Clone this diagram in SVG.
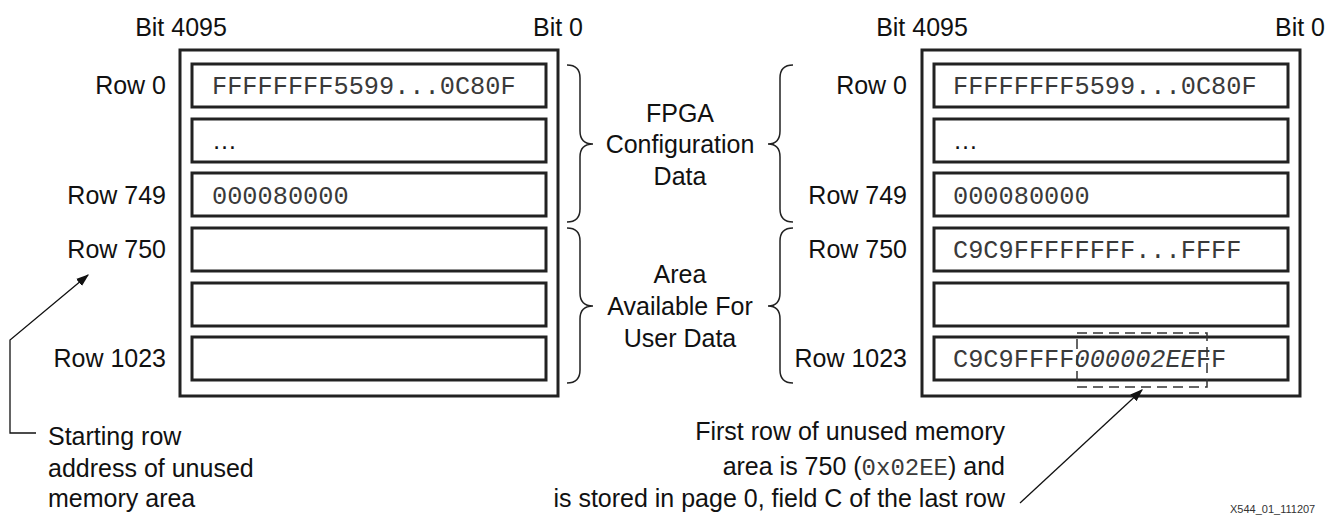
<svg xmlns="http://www.w3.org/2000/svg" width="1336" height="515" viewBox="0 0 1336 515">
<defs>
<style>
.t{font-family:"Liberation Sans",Arial,sans-serif;font-size:25px;fill:#111}
.m{font-family:"Liberation Mono","Courier New",monospace;font-size:25.3px;fill:#3a3a3a}
.outer{fill:none;stroke:#222;stroke-width:3}
.row{fill:none;stroke:#222;stroke-width:3}
.brace{fill:none;stroke:#222;stroke-width:1.5}
.lead{fill:none;stroke:#111;stroke-width:1.3}
.dash{fill:none;stroke:#333;stroke-width:1.5;stroke-dasharray:10 6}
</style>
<marker id="ah" viewBox="0 0 10 10" refX="9" refY="5" markerWidth="13" markerHeight="13" markerUnits="userSpaceOnUse" orient="auto">
<path d="M0,1.5 L10,5 L0,8.5 z" fill="#111"/>
</marker>
</defs>
<rect width="1336" height="515" fill="#fff"/>

<g id="left-memory">
<text class="t" x="181" y="36" text-anchor="middle">Bit 4095</text>
<text class="t" x="558" y="36" text-anchor="middle">Bit 0</text>
<rect class="outer" x="180" y="50" width="378" height="346"/>
<rect class="row" x="192" y="64" width="354" height="43"/>
<rect class="row" x="192" y="119" width="354" height="43"/>
<rect class="row" x="192" y="173" width="354" height="43"/>
<rect class="row" x="192" y="228" width="354" height="43"/>
<rect class="row" x="192" y="283" width="354" height="43"/>
<rect class="row" x="192" y="337" width="354" height="43"/>
<text class="m" x="212" y="94">FFFFFFFF5599...0C80F</text>
<text class="t" x="212" y="149">…</text>
<text class="m" x="212" y="204">000080000</text>
<text class="t" x="166" y="94" text-anchor="end">Row 0</text>
<text class="t" x="166" y="204" text-anchor="end">Row 749</text>
<text class="t" x="166" y="258" text-anchor="end">Row 750</text>
<text class="t" x="166" y="367" text-anchor="end">Row 1023</text>
</g>

<g id="right-memory">
<text class="t" x="922" y="36" text-anchor="middle">Bit 4095</text>
<text class="t" x="1300" y="36" text-anchor="middle">Bit 0</text>
<rect class="outer" x="922" y="50" width="378" height="346"/>
<rect class="row" x="934" y="64" width="354" height="43"/>
<rect class="row" x="934" y="119" width="354" height="43"/>
<rect class="row" x="934" y="173" width="354" height="43"/>
<rect class="row" x="934" y="228" width="354" height="43"/>
<rect class="row" x="934" y="283" width="354" height="43"/>
<rect class="row" x="934" y="337" width="354" height="43"/>
<text class="m" x="953" y="94">FFFFFFFF5599...0C80F</text>
<text class="t" x="953" y="149">…</text>
<text class="m" x="953" y="204">000080000</text>
<text class="m" x="953" y="258">C9C9FFFFFFFF...FFFF</text>
<text class="m" x="953" y="367">C9C9FFFF<tspan font-style="italic">000002EE</tspan>FF</text>
<rect class="dash" x="1077" y="333" width="130" height="54"/>
<text class="t" x="907" y="94" text-anchor="end">Row 0</text>
<text class="t" x="907" y="204" text-anchor="end">Row 749</text>
<text class="t" x="907" y="258" text-anchor="end">Row 750</text>
<text class="t" x="907" y="367" text-anchor="end">Row 1023</text>
</g>

<g id="fpga-config">
<path class="brace" d="M567,65 Q580,65 580,78 L580,131 Q580,144 593,144 Q580,144 580,157 L580,209 Q580,222 567,222"/>
<path class="brace" d="M793,65 Q780,65 780,78 L780,131 Q780,144 768,144 Q780,144 780,157 L780,209 Q780,222 793,222"/>
<text class="t" x="680" y="122" text-anchor="middle">FPGA</text>
<text class="t" x="680" y="153" text-anchor="middle">Configuration</text>
<text class="t" x="680" y="185" text-anchor="middle">Data</text>
</g>

<g id="user-area">
<path class="brace" d="M567,228 Q580,228 580,241 L580,293 Q580,306 593,306 Q580,306 580,319 L580,370 Q580,383 567,383"/>
<path class="brace" d="M793,228 Q780,228 780,241 L780,293 Q780,306 768,306 Q780,306 780,319 L780,370 Q780,383 793,383"/>
<text class="t" x="680" y="283" text-anchor="middle">Area</text>
<text class="t" x="680" y="315" text-anchor="middle">Available For</text>
<text class="t" x="680" y="347" text-anchor="middle">User Data</text>
</g>

<g id="note-start-row">
<text class="t" x="48" y="445">Starting row</text>
<text class="t" x="48" y="477">address of unused</text>
<text class="t" x="48" y="507">memory area</text>
</g>

<g id="note-first-row">
<text class="t" x="1005" y="440" text-anchor="end">First row of unused memory</text>
<text class="t" x="1005" y="475" text-anchor="end">area is 750 (<tspan class="m" style="font-size:24px">0x02EE</tspan>) and</text>
<text class="t" x="1005" y="507" text-anchor="end">is stored in page 0, field C of the last row</text>
</g>

<g id="connectors">
<polyline class="lead" points="36,433 10,433 10,340 88,275" marker-end="url(#ah)"/>
<line class="lead" x1="1020" y1="503" x2="1142" y2="390" marker-end="url(#ah)"/>
</g>

<g id="figure-id">
<text x="1230" y="513" style="font-family:'Liberation Sans',Arial,sans-serif;font-size:11px;fill:#333">X544_01_111207</text>
</g>
</svg>
